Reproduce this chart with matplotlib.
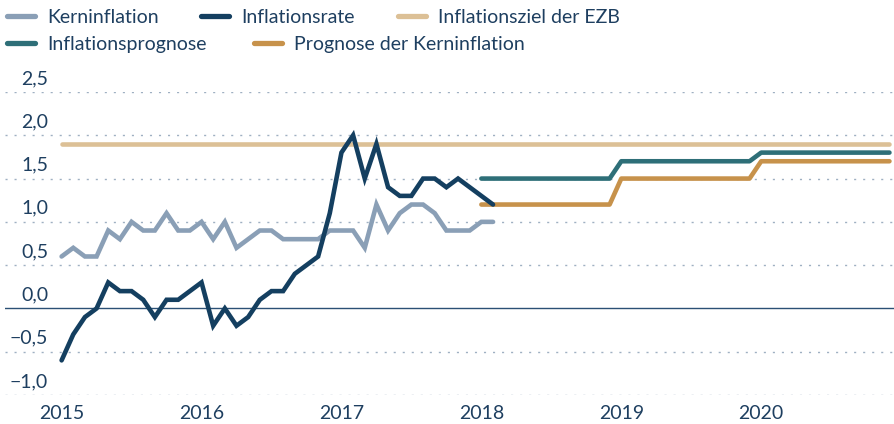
import matplotlib
matplotlib.use("Agg")
import matplotlib.pyplot as plt
from matplotlib.lines import Line2D
import numpy as np

plt.rcParams['font.family'] = ['Lato', 'DejaVu Sans']

# Monthly data, index 0 = Jan 2015
inflationsrate = [-0.6, -0.3, -0.1, 0.0, 0.3, 0.2, 0.2, 0.1, -0.1, 0.1, 0.1, 0.2,
                  0.3, -0.2, 0.0, -0.2, -0.1, 0.1, 0.2, 0.2, 0.4, 0.5, 0.6, 1.1,
                  1.8, 2.0, 1.5, 1.9, 1.4, 1.3, 1.3, 1.5, 1.5, 1.4, 1.5, 1.4,
                  1.3, 1.2]
kerninflation = [0.6, 0.7, 0.6, 0.6, 0.9, 0.8, 1.0, 0.9, 0.9, 1.1, 0.9, 0.9,
                 1.0, 0.8, 1.0, 0.7, 0.8, 0.9, 0.9, 0.8, 0.8, 0.8, 0.8, 0.9,
                 0.9, 0.9, 0.7, 1.2, 0.9, 1.1, 1.2, 1.2, 1.1, 0.9, 0.9, 0.9,
                 1.0, 1.0]
inflationsziel = 1.9
# Forecasts, monthly from Jan 2018 to Dec 2020
inflationsprognose = [1.5] * 12 + [1.7] * 12 + [1.8] * 12
prognose_kern = [1.2] * 12 + [1.5] * 12 + [1.7] * 12

years = [2015, 2016, 2017, 2018, 2019, 2020]
y_ticks = [-1.0, -0.5, 0.0, 0.5, 1.0, 1.5, 2.0, 2.5]
y_labels = ["\u22121,0", "\u22120,5", "0,0", "0,5", "1,0", "1,5", "2,0", "2,5"]

legend_labels = ["Kerninflation", "Inflationsrate", "Inflationsziel der EZB",
                 "Inflationsprognose", "Prognose der Kerninflation"]

c_kern = "#8A9FB6"
c_rate = "#143F60"
c_ziel = "#DCC096"
c_prog = "#2E6F78"
c_pkern = "#C7924B"
c_text = "#1E3F60"
c_grid = "#9FB0C2"

W, H = 894, 424
fig = plt.figure(figsize=(W / 100, H / 100), dpi=100)

x0, x1 = 5, 894
ytop, ybot = 92, 395
ax = fig.add_axes([x0 / W, (H - ybot) / H, (x1 - x0) / W, (ybot - ytop) / H])

m_per_px = 1 / 11.66
ax.set_xlim((x0 - 61.6) * m_per_px, (x1 - 61.6) * m_per_px)
ax.set_ylim(-1.0, 2.5)

t_hist = np.arange(len(inflationsrate))
t_fc = np.arange(36, 36 + len(inflationsprognose))
t_all = np.array([0, 71])

lw = 3.3
fs = 14
for v in y_ticks:
    if v == 0.0:
        ax.axhline(0, color="#2B5075", lw=1.0, zorder=1)
    else:
        ax.axhline(v, color=c_grid, lw=1.0, ls=(0, (1.5, 5)), zorder=1)

ax.plot(t_all, [inflationsziel, inflationsziel], color=c_ziel, lw=lw,
        solid_capstyle="round", zorder=2, clip_on=False)
ax.plot(t_fc, inflationsprognose, color=c_prog, lw=lw, solid_capstyle="round",
        solid_joinstyle="round", zorder=3, clip_on=False)
ax.plot(t_fc, prognose_kern, color=c_pkern, lw=lw, solid_capstyle="round",
        solid_joinstyle="round", zorder=3, clip_on=False)
ax.plot(t_hist, kerninflation, color=c_kern, lw=lw, solid_capstyle="round",
        solid_joinstyle="miter", zorder=4, clip_on=False)
ax.plot(t_hist, inflationsrate, color=c_rate, lw=lw, solid_capstyle="round",
        solid_joinstyle="miter", zorder=5, clip_on=False)

for s in ax.spines.values():
    s.set_visible(False)
ax.set_yticks([])
ax.set_xticks([(y - 2015) * 12 for y in years])
ax.set_xticklabels([str(y) for y in years], fontsize=fs, color=c_text)
ax.tick_params(axis="x", length=0, pad=7)

for v, lab in zip(y_ticks, y_labels):
    ax.annotate(lab, xy=(48 / W, v), xycoords=("figure fraction", "data"),
                xytext=(0, 5), textcoords="offset pixels",
                ha="right", va="bottom", fontsize=fs, color=c_text)

colors = [c_kern, c_rate, c_ziel, c_prog, c_pkern]
pos = [(5, 16), (199, 16), (396, 16), (5, 43), (252, 43)]
for (px, py), col, lab in zip(pos, colors, legend_labels):
    fy = (H - py) / H
    fig.add_artist(Line2D([(px + 2) / W, (px + 30) / W], [fy, fy], color=col,
                          lw=lw + 0.5, solid_capstyle="round",
                          transform=fig.transFigure))
    fig.text((px + 42) / W, fy, lab, ha="left", va="center_baseline",
             fontsize=fs, color=c_text)

fig.savefig("out.png", dpi=100)
